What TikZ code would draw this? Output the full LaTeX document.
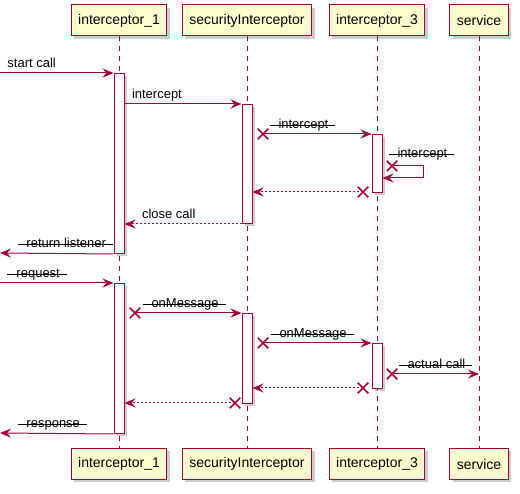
\documentclass[tikz,border=0pt]{standalone}
\usepackage{fontspec}
\setmainfont{Liberation Sans}
\usetikzlibrary{arrows.meta,shadows,shapes.misc}
\definecolor{umlred}{HTML}{A80036}
\definecolor{umlfill}{HTML}{FEFECE}
\newsavebox{\strikebox}
\newcommand{\struck}[1]{\sbox{\strikebox}{#1}\rlap{\rule[0.25em]{\dimexpr\wd\strikebox+16pt\relax}{1pt}}\hspace{9pt}\usebox{\strikebox}\hspace{7pt}}

\begin{document}
\begin{tikzpicture}[x=1pt,y=-1pt,>={Stealth[length=11pt,width=9pt,inset=4pt]},
    actor/.style={draw=umlred,fill=umlfill,line width=1pt,font=\fontsize{14}{16}\selectfont,
                  minimum height=31pt,inner xsep=7pt,
                  drop shadow={shadow xshift=3pt,shadow yshift=-3pt,opacity=.4}},
    life/.style={umlred,line width=1pt,dash pattern=on 5pt off 5pt},
    bar/.style={draw=umlred,fill=white,line width=1pt,minimum width=10pt,inner sep=0pt,anchor=north,
                drop shadow={shadow xshift=3pt,shadow yshift=-3pt,opacity=.4}},
    msg/.style={->,umlred,line width=1pt},
    ret/.style={msg,dash pattern=on 2pt off 2pt},
    lbl/.style={text=black,font=\fontsize{13}{15}\selectfont,inner sep=0pt,anchor=base west},
    xmark/.style={cross out,draw=umlred,line width=1.5pt,minimum size=9pt,inner sep=0pt}]
\useasboundingbox (0,0) rectangle (520,494);
%%%%% participants
\node[actor] (i1) at (119,20.5) {interceptor\_1};
\node[actor] (si) at (247,20.5) {securityInterceptor};
\node[actor] (i3) at (377,20.5) {interceptor\_3};
\node[actor] (sv) at (479,20.5) {service};
\node[actor] (i1-b) at (119,464) {interceptor\_1};
\node[actor] (si-b) at (247,464) {securityInterceptor};
\node[actor] (i3-b) at (377,464) {interceptor\_3};
\node[actor] (sv-b) at (479,464) {service};
\foreach \p in {i1,si,i3,sv}
  \draw[life] (\p.south) -- (\p-b.north);
%%%%% activations
\node[bar,minimum height=180pt] (act1) at (119,73) {};
\node[bar,minimum height=119pt] (act2) at (247,104) {};
\node[bar,minimum height=58pt] (act3) at (377,134) {};
\node[bar,minimum height=150pt] (act4) at (119,283) {};
\node[bar,minimum height=90pt] (act5) at (247,313) {};
\node[bar,minimum height=45pt] (act6) at (377,343) {};
%%%%% free ends
\coordinate (in1) at (0,73);
\coordinate (out1) at (0,253);
\coordinate (in2) at (0,283);
\coordinate (out2) at (0,433);
\node[xmark] (x1) at (263,134) {};
\node[xmark] (x2) at (392,166) {};
\node[xmark] (x3) at (363,192) {};
\node[xmark] (x4) at (135,313) {};
\node[xmark] (x5) at (263,343) {};
\node[xmark] (x6) at (392,374) {};
\node[xmark] (x7) at (363,388) {};
\node[xmark] (x8) at (235,403) {};
%%%%% first call
\draw[msg] (in1) -- node[lbl,pos=0,xshift=7pt,yshift=5pt] {start call} (act1.north west);
\draw[msg] (act1.east |- act2.north) -- node[lbl,pos=0,xshift=7pt,yshift=5pt] {intercept} (act2.north west);
\draw[msg] (x1.center) -- node[lbl,pos=0,xshift=6pt,yshift=5pt] {\struck{intercept}} (act3.north west);
\draw[msg] (x2.center) -- node[lbl,pos=0,xshift=-4pt,yshift=8pt] {\struck{intercept}} ++(31,0) -- ++(0,12) -- (act3.east |- 0,178);
\draw[ret] (x3.center) -- (act2.east |- x3);
\draw[ret] (act2.south west) -- node[lbl,pos=1,xshift=17pt,yshift=5pt] {close call} (act1.east |- act2.south);
\draw[msg] (act1.south west) -- (out1) node[lbl,xshift=17pt,yshift=5pt] {\struck{return listener}};
%%%%% second call
\draw[msg] (in2) -- node[lbl,pos=0,xshift=7pt,yshift=5pt] {\struck{request}} (act4.north west);
\draw[msg] (x4.center) -- node[lbl,pos=0,xshift=7pt,yshift=5pt] {\struck{onMessage}} (act5.north west);
\draw[msg] (x5.center) -- node[lbl,pos=0,xshift=7pt,yshift=5pt] {\struck{onMessage}} (act6.north west);
\draw[msg] (x6.center) -- node[lbl,pos=0,xshift=6pt,yshift=5pt] {\struck{actual call}} (sv |- x6);
\draw[ret] (x7.center) -- (act5.east |- x7);
\draw[ret] (x8.center) -- (act4.east |- x8);
\draw[msg] (act4.south west) -- (out2) node[lbl,xshift=17pt,yshift=5pt] {\struck{response}};
\end{tikzpicture}
\end{document}
